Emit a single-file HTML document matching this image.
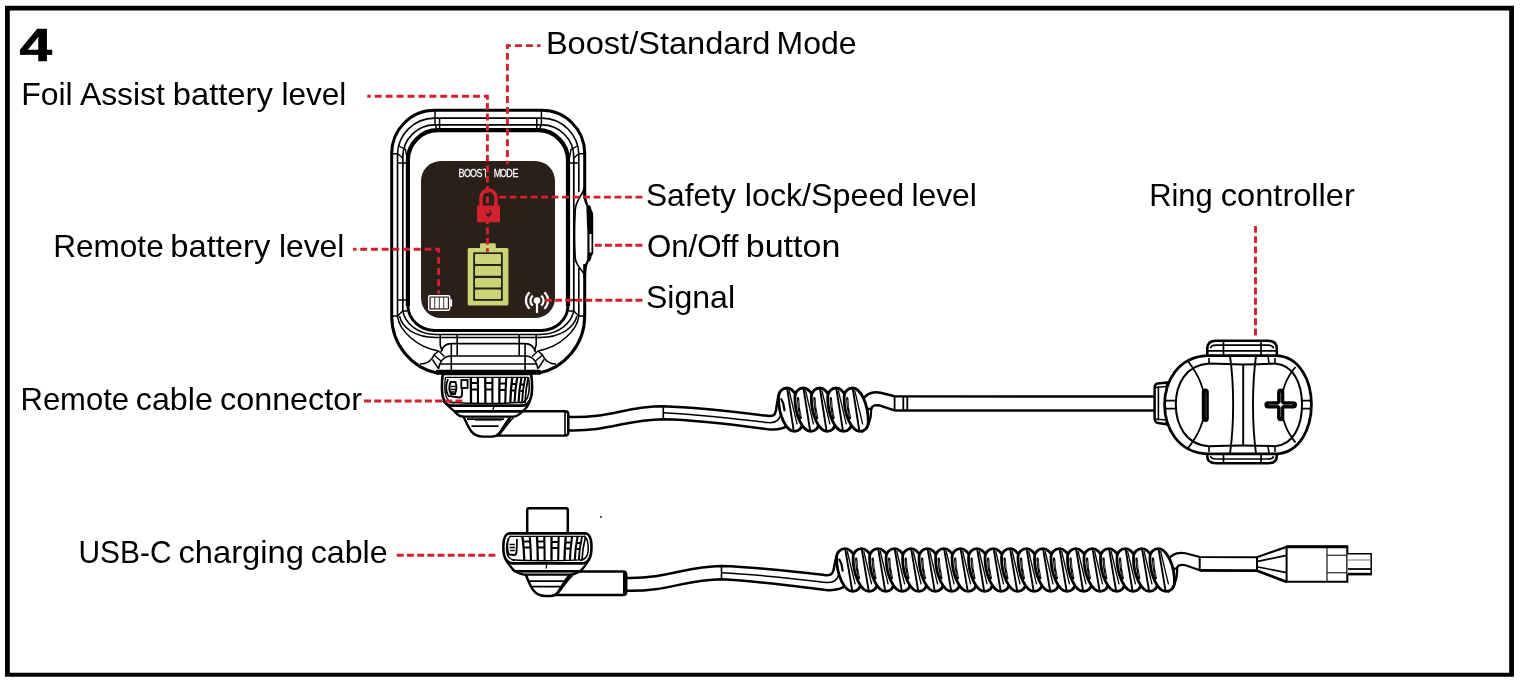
<!DOCTYPE html>
<html lang="en">
<head>
<meta charset="utf-8">
<title>Remote and ring controller overview</title>
<style>
html,body{margin:0;padding:0;background:#fff;}
body{width:1522px;height:684px;overflow:hidden;}
svg{display:block;will-change:transform;}
.lbl{font-family:"Liberation Sans",sans-serif;font-size:32px;fill:#000;}
.num{font-family:"Liberation Sans",sans-serif;font-weight:bold;font-size:45.5px;fill:#000;}
.dash{fill:none;stroke:#d2202c;stroke-width:2.9;}
</style>
</head>
<body>
<svg width="1522" height="684" viewBox="0 0 1522 684">
<rect x="0" y="0" width="1522" height="684" fill="#fff"/>
<path d="M5 5.8 H1514 V676.8 H5 Z M9.8 10.6 V672.7 H1509.2 V10.6 Z" fill="#000" fill-rule="evenodd"/>
<path d="M437 373 C412 368 391.7 345 391.7 316 L391.7 153.5 A43 43 0 0 1 434.7 110.3 L541.7 110.3 A43 43 0 0 1 584.7 153.5 L584.7 316 C584.7 345 564 368 539 373" fill="#fff" stroke="#000" stroke-width="3"/>
<path d="M397.5 316 L397.5 155 A37 37 0 0 1 434.5 118.1 L542 118.1 A37 37 0 0 1 578.8 155 L578.8 192" fill="none" stroke="#000" stroke-width="1.6"/>
<path d="M578.8 268 L578.8 316" fill="none" stroke="#000" stroke-width="1.6"/>
<path d="M402.8 311 L402.8 157 A32 32 0 0 1 434.8 124.9 L541.6 124.9 A32 32 0 0 1 573.8 157 L573.8 311" fill="none" stroke="#000" stroke-width="1.7"/>
<path d="M407.9 306 L407.9 160 A30 30 0 0 1 437.9 130.2 L538 130.2 A30 30 0 0 1 568 160 L568 306" fill="none" stroke="#000" stroke-width="4.2"/>
<path d="M407.9 304 L407.9 306 A27 25 0 0 0 435 330.4 L541 330.4 A27 25 0 0 0 568 306 L568 304" fill="none" stroke="#000" stroke-width="3"/>
<path d="M435 110.3 L435 124 L437 130 M439.6 118.1 L439.6 131 M541.4 110.3 L541.4 124 L539.4 130 M536.8 118.1 L536.8 131" fill="none" stroke="#000" stroke-width="1.5"/>
<path d="M391.7 153.8 L397.5 153.8 L402.8 158 M397.5 163 L407 163 M399 146 L405.5 149.5 L407 158 M584.7 153.8 L578.8 153.8 L573.8 158 M578.8 163 L569 163 M577.4 146 L571 149.5 L569.4 158" fill="none" stroke="#000" stroke-width="1.4"/>
<path d="M391.7 316 L397.5 316 L402.8 311 L407 311 M397.5 300 L407 300 M584.7 316 L578.8 316 L573.8 311 L569 311 M578.8 300 L569 300" fill="none" stroke="#000" stroke-width="1.4"/>
<path d="M402.8 311 C405 322 416 334.4 436 334.4 L540 334.4 C560 334.4 571.5 322 573.8 311" fill="none" stroke="#000" stroke-width="1.5"/>
<path d="M399.5 316 C402 327 414 337.4 436 337.4 L540 337.4 C562 337.4 574 327 577 316" fill="none" stroke="#000" stroke-width="1.5"/>
<path d="M397.5 316 C399 330 416 347 438.5 351 M578.8 316 C577.5 330 560 347 538 351" fill="none" stroke="#000" stroke-width="1.6"/>
<path d="M420 364 C428 364 432 360 434 355 L438.5 351 M556 364 C548 364 544.5 360 542.5 355 L538 351" fill="none" stroke="#000" stroke-width="1.6"/>
<path d="M434 355 L441 361 M438.5 351 L444.5 356.5 M432.5 359.5 L438 368 M542.5 355 L535.5 361 M538 351 L532 356.5 M544 359.5 L538.5 368" fill="none" stroke="#000" stroke-width="1.4"/>
<path d="M440.2 334.4 L440.2 345 L442 351 M457.2 334.4 L457.2 356 M451.3 343.6 L451.3 371 M536.2 334.4 L536.2 345 L534.4 351 M519.2 334.4 L519.2 356 M525.1 343.6 L525.1 371" fill="none" stroke="#000" stroke-width="1.6"/>
<path d="M441 352 C442.5 346.5 446 343.6 451.3 343.6 L525.1 343.6 C530.4 343.6 534 346.5 535.4 352" fill="none" stroke="#000" stroke-width="1.6"/>
<path d="M438.5 369 C440 361 444 356 451.3 356 L525.1 356 C532.4 356 536.5 361 538 369" fill="none" stroke="#000" stroke-width="1.6"/>
<path d="M439.5 364 L537 364" fill="none" stroke="#000" stroke-width="1.6"/>
<path d="M436 372.2 L540.5 372.2" fill="none" stroke="#000" stroke-width="5"/>
<rect x="582.9" y="199" width="4" height="65" fill="#fff"/>
<path d="M584.7 187 C583 195 576 199 575.2 210 C574.4 225 574.4 245 575.2 258 C576 266 581 268 584.7 275" fill="none" stroke="#000" stroke-width="1.7"/>
<path d="M584.7 190 C584.7 198 585 202.5 587.4 205" fill="none" stroke="#000" stroke-width="2.6"/>
<path d="M584.7 278 C584.7 270 585 265 587.6 262" fill="none" stroke="#000" stroke-width="2.6"/>
<path d="M586.3 204.6 L589.4 205.2 C590.6 206 591.2 207.6 591.4 209.6 C592.4 211 593.2 213 593.2 215.5 L593.2 253.5 L591.6 256 C591.4 259 590.4 261 588.4 262.3 L586.6 262 C587.4 258 587.4 254 587.4 250 L587.4 233 C587 224 586.6 214 586.3 204.6 Z" fill="#000"/>
<path d="M589.5 234 L591.5 234 L591.5 252.5 L589.5 252.5 Z" fill="#fff"/>
<rect x="421" y="161" width="134" height="157" rx="20" ry="20" fill="#2a2019"/>
<text transform="translate(458.6 177.1) scale(0.8 1)" x="3.75 11.25 18.75 26.25 33.75 41.25 48.75 56.25 63.75 71.25" y="0" text-anchor="middle" font-family="'Liberation Sans',sans-serif" font-size="11.2" fill="#fff" stroke="#fff" stroke-width="0.25" xml:space="preserve">BOOST MODE</text>
<rect x="477" y="205.6" width="23" height="16.6" rx="0.8" fill="#d2202c"/>
<path d="M481 206 L481 197.5 A7.5 7.5 0 0 1 496 197.5 L496 206" fill="none" stroke="#d2202c" stroke-width="3.6"/>
<circle cx="488.5" cy="213" r="2.9" fill="#2a2019"/>
<circle cx="488.6" cy="211.8" r="1.5" fill="#d2202c"/>
<rect x="487.7" y="214" width="1.7" height="4.6" fill="#2a2019" opacity="0.6"/>
<path d="M469.2 248 L480 248 L480 244.6 Q480 243.3 481.4 243.3 L494.4 243.3 Q495.8 243.3 495.8 244.6 L495.8 248 L506.9 248 Q508.4 248 508.4 249.5 L508.4 304 Q508.4 305.5 506.9 305.5 L469.2 305.5 Q467.7 305.5 467.7 304 L467.7 249.5 Q467.7 248 469.2 248 Z" fill="#c9d476"/>
<rect x="473.2" y="252.3" width="29.6" height="48.5" fill="#2a2019"/>
<rect x="475" y="254" width="26" height="10.0" rx="1.2" fill="#c9d476"/>
<rect x="475" y="266" width="26" height="9.8" rx="1.2" fill="#c9d476"/>
<rect x="475" y="277.9" width="26" height="9.6" rx="1.2" fill="#c9d476"/>
<rect x="475" y="289.4" width="26" height="9.7" rx="1.2" fill="#c9d476"/>
<rect x="428.7" y="295.7" width="21" height="14.5" rx="1.4" fill="none" stroke="#fff" stroke-width="1.4"/>
<rect x="450.2" y="299.3" width="1.9" height="7.2" rx="0.6" fill="#fff"/>
<rect x="430.7" y="297.6" width="3.6" height="10.7" fill="#fff"/>
<rect x="435.2" y="297.6" width="3.6" height="10.7" fill="#fff"/>
<rect x="439.7" y="297.6" width="3.6" height="10.7" fill="#fff"/>
<rect x="444.2" y="297.6" width="3.6" height="10.7" fill="#fff"/>
<circle cx="537" cy="300.6" r="3.3" fill="#fff"/>
<rect x="535.9" y="301" width="2.2" height="12" fill="#fff"/>
<path d="M541.24 295.54 A6.6 6.6 0 0 1 541.24 305.66 M532.76 305.66 A6.6 6.6 0 0 1 532.76 295.54 M544.36 292.43 A11 11 0 0 1 544.36 308.77 M529.64 308.77 A11 11 0 0 1 529.64 292.43" fill="none" stroke="#fff" stroke-width="2.3"/>
<path d="M518 411.2 L565 411.2 Q568.3 411.2 568.3 414.2 L568.3 432.5 Q568.3 435.6 565 435.6 L495 435.6" fill="#fff" stroke="#000" stroke-width="2.4"/>
<path d="M565 411.5 L565 435" fill="none" stroke="#000" stroke-width="1.6"/>
<path d="M463.5 416.5 C468.5 427 471 436.6 483 436.6 L492 436.6 C500 436.6 503.5 428 510.5 417" fill="#fff" stroke="#000" stroke-width="2.4"/>
<path d="M467 419.2 L504 419.2 M471.5 426.2 L498.5 426.2" fill="none" stroke="#000" stroke-width="1.8"/>
<path d="M475 420.6 L502 420.6" fill="none" stroke="#555" stroke-width="1"/>
<path d="M513.5 417.5 C507 424 503 431 498.5 435.6 M509 418 C504.5 424 501.5 430 497 436" fill="none" stroke="#000" stroke-width="1.5"/>
<path d="M454.5 411.2 C457 414.5 459.5 416.6 463.5 416.6 L513 416.6 C517 416.6 520 414 522.5 411.2 Z" fill="#fff" stroke="#000" stroke-width="2.4"/>
<path d="M444.5 402 C447.5 405 450.5 408.5 454.5 411.2 L522.5 411.2 C526 409 528 405.5 529.5 402 Z" fill="#fff" stroke="#000" stroke-width="2.4"/>
<path d="M493.8 406 L493 410.5" fill="none" stroke="#000" stroke-width="1.4"/>
<path d="M442.9 374 L531.1 374 C532.3 380.0 532.5 392.6 530.9 397.6 C529.7 402.1 526.7 405.6 521.7 405.6 L452.3 405.6 C447.3 405.6 444.3 402.1 443.1 397.6 C441.5 392.6 441.7 380.0 442.9 374 Z" fill="#fff" stroke="#000" stroke-width="2.6"/>
<path d="M528.5 377.0 C529.5 384.0 529.3 392.6 527.7 397.1 C526.2 400.6 523.7 402.6 519.7 403.0" fill="none" stroke="#000" stroke-width="1.5"/>
<path d="M445.5 377.0 C444.5 384.0 444.7 392.6 446.3 397.1 C447.8 400.6 450.3 402.6 454.3 403.0" fill="none" stroke="#000" stroke-width="1.3"/>
<path d="M470.8 377.0 Q471.0 390.3 471.0 403.1" fill="none" stroke="#000" stroke-width="2.3"/>
<path d="M477.8 377.0 Q478.0 390.3 478.0 403.1" fill="none" stroke="#000" stroke-width="2.1"/>
<path d="M485.2 377.0 Q485.4 390.3 485.4 403.1" fill="none" stroke="#000" stroke-width="2.3"/>
<path d="M492.4 377.0 Q492.4 390.3 492.4 403.1" fill="none" stroke="#000" stroke-width="2.1"/>
<path d="M499.5 377.0 Q499.3 390.3 499.3 403.1" fill="none" stroke="#000" stroke-width="2.3"/>
<path d="M506.3 377.0 Q505.4 390.3 505.3 403.1" fill="none" stroke="#000" stroke-width="2.1"/>
<path d="M512.3 377.0 Q510.6 390.3 510.3 403.1" fill="none" stroke="#000" stroke-width="2.3"/>
<path d="M517.3 377.0 Q514.9 390.3 514.5 403.1" fill="none" stroke="#000" stroke-width="2.1"/>
<path d="M521.5 377.0 Q519.0 390.3 518.5 403.1" fill="none" stroke="#000" stroke-width="2.1"/>
<path d="M525.3 377.0 Q522.5 390.3 522.0 403.1" fill="none" stroke="#000" stroke-width="1.9"/>
<path d="M528.3 377.0 Q525.5 390.3 525.0 403.1" fill="none" stroke="#000" stroke-width="1.7"/>
<path d="M471 383 L478 383 M471 389.5 L478 389.5 M485.3 383 L492.4 383 M485.3 389.5 L492.4 389.5 M499.4 383.5 L506 383.5 M499.4 390 L505.6 390 M511.8 384 L516.8 384 M511.3 390.5 L516.2 390.5 M521 384.5 L524.8 384.5 M520.5 391 L524 391" fill="none" stroke="#000" stroke-width="1.9"/>
<path d="M446 377.4 L528 377.4" fill="none" stroke="#000" stroke-width="1.4"/>
<path d="M449 402.3 C470 403.6 505 403.6 526 402" fill="none" stroke="#000" stroke-width="1.4"/>
<path d="M448 379 C445.5 385 445.5 392 448.5 396 L459 397.5 Q462 397.5 462 394.5 L462.5 379.5" fill="none" stroke="#000" stroke-width="1.8"/>
<path d="M450.5 382 Q448 389 451 394 L455 394 Q457.5 388 455.5 382 Z" fill="none" stroke="#000" stroke-width="1.9"/>
<path d="M450.5 386.5 L455.5 386.5 M450.5 389.5 L455.5 389.5 M450.8 392 L455.3 392" fill="none" stroke="#000" stroke-width="1.3"/>
<rect x="461.3" y="380" width="6.3" height="8" fill="#fff" stroke="#000" stroke-width="1.8"/>
<path d="M568.3 416.9 C610 418.5 625 406.3 663.3 406.3 C700 407.5 740 412.5 769 416 C774.5 416.5 775.2 414 776 410 L778.3 396 L788 400 L789 425 C783 429.5 776 430 768 429.3 C740 425.5 700 420 663.3 419.3 C625 419.5 610 431.5 568.3 430.4 Z" fill="#fff" stroke="#000" stroke-width="2.5" stroke-linejoin="round"/>
<path d="M663.3 406.3 L663.3 419.3" fill="none" stroke="#000" stroke-width="1.6"/>
<path d="M663.3 412.7 C700 414.5 740 419.5 768.5 422.6 C776 423.2 779.5 420.5 781 414" fill="none" stroke="#000" stroke-width="1.5"/>
<path d="M871.3 408.5 C871.3 418 869 427 862.5 431.5 L858 420 L860 405 Z" fill="#fff" stroke="#000" stroke-width="2.2"/>
<path d="M862 409 L871 409 C872.5 404.5 876 404.8 880 405.6 L894.5 410.4 L1156 410.4 L1156 396.6 L894.5 396.3 L880.5 392.8 C872 391.2 866 394.5 862.8 399.5" fill="#fff" stroke="#000" stroke-width="2.5" stroke-linejoin="round"/>
<path d="M894.6 396.3 L894.6 410.4 M903.3 396.3 L903.3 410.4 M907.3 396.3 L907.3 410.4" fill="none" stroke="#000" stroke-width="1.8"/>
<path d="M786.90 388.00 C782.70 388.00 778.50 391.39 778.50 397.20 C778.50 414.93 785.90 431.40 794.30 431.40 C798.50 431.40 802.70 428.01 802.70 422.20 C802.70 404.47 795.30 388.00 786.90 388.00 Z" fill="#fff" stroke="#000" stroke-width="2.8" stroke-linejoin="round"/>
<path d="M787.20 388.77 L793.70 430.63" fill="none" stroke="#000" stroke-width="1.9"/>
<path d="M789.10 390.42 L797.10 424.33" fill="none" stroke="#000" stroke-width="1.3"/>
<path d="M781.30 399.14 L783.30 403.50 L784.50 410.28" fill="none" stroke="#000" stroke-width="2.2" stroke-linecap="round"/>
<path d="M803.30 388.00 C799.10 388.00 794.90 391.39 794.90 397.20 C794.90 414.93 802.30 431.40 810.70 431.40 C814.90 431.40 819.10 428.01 819.10 422.20 C819.10 404.47 811.70 388.00 803.30 388.00 Z" fill="#fff" stroke="#000" stroke-width="2.8" stroke-linejoin="round"/>
<path d="M803.60 388.77 L810.10 430.63" fill="none" stroke="#000" stroke-width="1.9"/>
<path d="M805.50 390.42 L813.50 424.33" fill="none" stroke="#000" stroke-width="1.3"/>
<path d="M798.00 398.17 L798.80 407.86 L800.70 418.03" fill="none" stroke="#000" stroke-width="2.3" stroke-linecap="round"/>
<path d="M798.30 400.59 L799.00 407.38 M799.70 412.22 L800.50 416.09" fill="none" stroke="#fff" stroke-width="0.7" stroke-linecap="round" opacity="0.55"/>
<path d="M819.70 388.00 C815.50 388.00 811.30 391.39 811.30 397.20 C811.30 414.93 818.70 431.40 827.10 431.40 C831.30 431.40 835.50 428.01 835.50 422.20 C835.50 404.47 828.10 388.00 819.70 388.00 Z" fill="#fff" stroke="#000" stroke-width="2.8" stroke-linejoin="round"/>
<path d="M820.00 388.77 L826.50 430.63" fill="none" stroke="#000" stroke-width="1.9"/>
<path d="M821.90 390.42 L829.90 424.33" fill="none" stroke="#000" stroke-width="1.3"/>
<path d="M814.40 398.17 L815.20 407.86 L817.10 418.03" fill="none" stroke="#000" stroke-width="2.3" stroke-linecap="round"/>
<path d="M814.70 400.59 L815.40 407.38 M816.10 412.22 L816.90 416.09" fill="none" stroke="#fff" stroke-width="0.7" stroke-linecap="round" opacity="0.55"/>
<path d="M836.10 388.00 C831.90 388.00 827.70 391.39 827.70 397.20 C827.70 414.93 835.10 431.40 843.50 431.40 C847.70 431.40 851.90 428.01 851.90 422.20 C851.90 404.47 844.50 388.00 836.10 388.00 Z" fill="#fff" stroke="#000" stroke-width="2.8" stroke-linejoin="round"/>
<path d="M836.40 388.77 L842.90 430.63" fill="none" stroke="#000" stroke-width="1.9"/>
<path d="M838.30 390.42 L846.30 424.33" fill="none" stroke="#000" stroke-width="1.3"/>
<path d="M830.80 398.17 L831.60 407.86 L833.50 418.03" fill="none" stroke="#000" stroke-width="2.3" stroke-linecap="round"/>
<path d="M831.10 400.59 L831.80 407.38 M832.50 412.22 L833.30 416.09" fill="none" stroke="#fff" stroke-width="0.7" stroke-linecap="round" opacity="0.55"/>
<path d="M852.50 388.00 C848.30 388.00 844.10 391.39 844.10 397.20 C844.10 414.93 851.50 431.40 859.90 431.40 C864.10 431.40 868.30 428.01 868.30 422.20 C868.30 404.47 860.90 388.00 852.50 388.00 Z" fill="#fff" stroke="#000" stroke-width="2.8" stroke-linejoin="round"/>
<path d="M852.80 388.77 L859.30 430.63" fill="none" stroke="#000" stroke-width="1.9"/>
<path d="M854.70 390.42 L862.70 424.33" fill="none" stroke="#000" stroke-width="1.3"/>
<path d="M847.20 398.17 L848.00 407.86 L849.90 418.03" fill="none" stroke="#000" stroke-width="2.3" stroke-linecap="round"/>
<path d="M847.50 400.59 L848.20 407.38 M848.90 412.22 L849.70 416.09" fill="none" stroke="#fff" stroke-width="0.7" stroke-linecap="round" opacity="0.55"/>
<path d="M1207.3 357 L1207.3 348.8 Q1207.3 340.8 1216 340.8 L1268 340.8 Q1276.8 340.8 1276.8 348.8 L1276.8 357 Z" fill="#fff" stroke="#000" stroke-width="2.6"/>
<path d="M1210.5 348.3 Q1211 345.2 1216 345.2 L1268 345.2 Q1273 345.2 1273.6 348.3 M1208 350.8 L1276 350.8" fill="none" stroke="#000" stroke-width="1.7"/>
<path d="M1223.5 340.8 L1223.5 357 M1261 340.8 L1261 357" fill="none" stroke="#000" stroke-width="1.7"/>
<path d="M1207.3 452 L1207.3 456.2 Q1207.3 463.2 1216 463.2 L1268 463.2 Q1276.8 463.2 1276.8 456.2 L1276.8 452 Z" fill="#fff" stroke="#000" stroke-width="2.6"/>
<path d="M1210.5 456.2 Q1211 459.0 1216 459.0 L1268 459.0 Q1273 459.0 1273.6 456.2 M1208 454.2 L1276 454.2" fill="none" stroke="#000" stroke-width="1.7"/>
<path d="M1223.5 452 L1223.5 463.2 M1261 452 L1261 463.2" fill="none" stroke="#000" stroke-width="1.7"/>
<path d="M1167 382.5 L1158 383.5 Q1154.6 384 1154.6 388 L1154.6 418 Q1154.6 422.5 1158 423 L1167 424.2 Z" fill="#fff" stroke="#000" stroke-width="2.5"/>
<path d="M1158.4 386 L1158.4 420.5 M1155 387.5 L1166 386.5 M1155 419 L1166 420" fill="none" stroke="#000" stroke-width="1.6"/>
<path d="M1207 355.6 C1178 357 1164.6 381 1164.6 404.6 C1164.6 428 1178 452.5 1207 453.8 L1277 453.8 C1300 452.5 1311.4 428 1311.4 404.6 C1311.4 381 1300 357 1277 355.6 Z" fill="#fff" stroke="#000" stroke-width="2.8"/>
<path d="M1209 363.6 C1186 365 1175.8 384 1175.8 404.6 C1175.8 425 1186 445 1209 446.2 Q1243 444.6 1275 446.2 C1294 445 1302 425 1302 404.6 C1302 384 1294 365 1275 363.6 Q1243 365.2 1209 363.6 Z" fill="none" stroke="#000" stroke-width="2"/>
<path d="M1187.5 360.5 C1198 374 1205 389 1205 404.6 C1205 420 1198 436 1187.5 448.8" fill="none" stroke="#000" stroke-width="1.8"/>
<path d="M1295.5 367 C1286 378 1281.5 391 1281.5 404.6 C1281.5 418 1286 431 1295.5 442.5" fill="none" stroke="#000" stroke-width="1.8"/>
<path d="M1165 400.6 L1176 400.6 M1165 408.6 L1176 408.6 M1302 400.6 L1311 400.6 M1302 408.6 L1311 408.6" fill="none" stroke="#000" stroke-width="1.8"/>
<path d="M1230 356 C1234.2 385 1234.2 424 1230 453.6 M1243.2 365 L1243.2 445 M1256 356 C1252 385 1252 424 1256 453.6" fill="none" stroke="#000" stroke-width="1.9"/>
<path d="M1209 358 L1209 363.8 M1275 358 L1275 363.8 M1268 356 L1269 363.5 M1209 446 L1209 452 M1275 446 L1275 452 M1268 446 L1269 453.5" fill="none" stroke="#000" stroke-width="1.6"/>
<path d="M1205.3 392 L1205.3 418.4" fill="none" stroke="#000" stroke-width="7" stroke-linecap="round"/>
<path d="M1206 393 L1206 417" fill="none" stroke="#fff" stroke-width="0.8" stroke-linecap="round" opacity="0.35"/>
<path d="M1268 404.8 L1293.4 404.8 M1280.7 392 L1280.7 417.6" fill="none" stroke="#000" stroke-width="7.2" stroke-linecap="round"/>
<path d="M1269 404.8 L1292.5 404.8 M1280.7 393 L1280.7 416.6" fill="none" stroke="#fff" stroke-width="0.9" stroke-linecap="round" opacity="0.45"/>
<path d="M1278.2 404.8 L1280.7 402.3 L1283.2 404.8 L1280.7 407.3 Z" fill="#fff" opacity="0.85"/>
<path d="M527.2 534 L527.2 510 Q527.2 508.2 529 508.2 L566 508.2 Q567.8 508.2 567.8 510 L567.8 534" fill="#fff" stroke="#000" stroke-width="2.5"/>
<path d="M575 571.4 L623 571.4 Q626.2 571.4 626.2 574.4 L626.2 592 Q626.2 595 623 595 L553 595" fill="#fff" stroke="#000" stroke-width="2.5"/>
<path d="M624.3 572.5 L624.3 594" fill="none" stroke="#000" stroke-width="2.6"/>
<path d="M525.5 574 C530 585 533 596 545 596 L551 596 C558 596 561.5 587 570.5 574.4" fill="#fff" stroke="#000" stroke-width="2.5"/>
<path d="M529 581.2 L565 581.2 M532 586.6 L560.5 586.6" fill="none" stroke="#000" stroke-width="1.7"/>
<path d="M573 575 C566.5 581.5 562 588.5 557 594.5 M568 576 C563.5 582 560 588.5 555.5 595" fill="none" stroke="#000" stroke-width="1.5"/>
<path d="M515 571.2 C518 573 520.5 574.6 524.5 574.6 L570 574.6 C574 574.6 577 573 580 571.2 Z" fill="#fff" stroke="#000" stroke-width="2.2"/>
<path d="M506.5 560.5 C509 564.5 511.5 568.5 515 571.2 L580 571.2 C583.5 568.5 586 564.5 588.3 560.5 Z" fill="#fff" stroke="#000" stroke-width="2.4"/>
<path d="M546.5 564.8 L546.3 568.5" fill="none" stroke="#000" stroke-width="1.3"/>
<path d="M509.8 533.4 L585 533.4 C589 533.4 591.2 538.4 591.4 544.4 C591.6 550.4 591.2 555.4 589.5 558.4 C588 561.4 586 563.4 582 563.4 L512.8 563.4 C508.8 563.4 506.8 561.4 505.3 558.4 C503.6 555.4 503.2 550.4 503.40000000000003 544.4 C503.6 538.4 505.8 533.4 509.8 533.4 Z" fill="#fff" stroke="#000" stroke-width="2.6"/>
<path d="M584 535.9 C587.5 538.4 588.4 545.4 588.2 550.4 C588 555.4 586 559.4 580 560.6" fill="none" stroke="#000" stroke-width="1.5"/>
<path d="M510.8 535.9 C507.3 538.4 506.40000000000003 545.4 506.6 550.4 C506.8 555.4 508.8 559.4 514.8 560.6" fill="none" stroke="#000" stroke-width="1.4"/>
<path d="M522.5 536.9 Q524.0 548.6 524.3 559.9" fill="none" stroke="#000" stroke-width="2.3"/>
<path d="M529.8 536.9 Q530.8 548.6 531.0 559.9" fill="none" stroke="#000" stroke-width="2.1"/>
<path d="M537.0 536.9 Q537.7 548.6 537.8 559.9" fill="none" stroke="#000" stroke-width="2.3"/>
<path d="M544.3 536.9 Q544.6 548.6 544.6 559.9" fill="none" stroke="#000" stroke-width="2.1"/>
<path d="M551.5 536.9 Q551.5 548.6 551.5 559.9" fill="none" stroke="#000" stroke-width="2.3"/>
<path d="M558.7 536.9 Q558.3 548.6 558.2 559.9" fill="none" stroke="#000" stroke-width="2.1"/>
<path d="M565.7 536.9 Q564.7 548.6 564.5 559.9" fill="none" stroke="#000" stroke-width="2.3"/>
<path d="M572.0 536.9 Q570.3 548.6 570.0 559.9" fill="none" stroke="#000" stroke-width="2.1"/>
<path d="M577.5 536.9 Q575.2 548.6 574.8 559.9" fill="none" stroke="#000" stroke-width="2.1"/>
<path d="M582.0 536.9 Q579.3 548.6 578.8 559.9" fill="none" stroke="#000" stroke-width="1.9"/>
<path d="M585.5 536.9 Q582.5 548.6 582.0 559.9" fill="none" stroke="#000" stroke-width="1.7"/>
<path d="M524 541.5 L530.5 541.5 M524.5 547.5 L530.8 547.5 M537.5 541.5 L544.4 541.5 M537.6 547.5 L544.5 547.5 M551.5 542 L558.5 542 M551.5 548 L558.3 548 M565.3 542.5 L571.3 542.5 M565 548.5 L570.8 548.5 M577 543 L581.2 543 M576.5 549 L580.5 549" fill="none" stroke="#000" stroke-width="1.8"/>
<path d="M510 536.4 L585 536.4" fill="none" stroke="#000" stroke-width="1.4"/>
<path d="M512 559.8 C530 561 565 561 583.5 559.6" fill="none" stroke="#000" stroke-width="1.4"/>
<path d="M508.5 538.5 C507 544 507 550 509 554.5 L514 555 Q516.5 555 516.5 552 L517 539" fill="none" stroke="#000" stroke-width="1.8"/>
<path d="M509.6 544.5 L514.8 544.5 M509.6 547.5 L514.8 547.5 M509.9 550.5 L514.8 550.5" fill="none" stroke="#000" stroke-width="1.3"/>
<circle cx="601" cy="516.9" r="0.9" fill="#000"/>
<path d="M626.2 578 C668 579 685 566.2 721.5 566 C760 567 800 572.5 826 575.2 C831.5 575.6 832.5 573.5 833.5 570 L836.4 556.2 L846 560 L847 585 C841 589.5 834 590.7 826 590 C800 587 760 581 721.5 579.2 C685 579.5 668 591.8 626.2 590.8 Z" fill="#fff" stroke="#000" stroke-width="2.5" stroke-linejoin="round"/>
<path d="M721.5 566 L721.5 579.2" fill="none" stroke="#000" stroke-width="1.6"/>
<path d="M721.5 572.8 C760 574.5 800 579.5 826.5 582.4 C834 583 837.5 580.3 839 574" fill="none" stroke="#000" stroke-width="1.5"/>
<path d="M1177.2 568.4 C1177.2 578 1175 587 1168.5 591.5 L1164 580 L1166 565 Z" fill="#fff" stroke="#000" stroke-width="2.2"/>
<path d="M1168 568.6 L1176.5 568.6 C1178 564.2 1181.5 564.4 1185.5 565.2 L1199.7 570.2 L1257 570.6 L1286.6 581.8 L1347.3 581.8 L1347.3 546.9 L1286.6 546.9 L1257 557.2 L1199.7 557 L1185.5 553.3 C1177 551.7 1171 555 1168 560" fill="#fff" stroke="#000" stroke-width="2.1" stroke-linejoin="miter"/>
<path d="M1199.7 557 L1199.7 570" fill="none" stroke="#000" stroke-width="2"/>
<path d="M1257 557 L1257 570.5 M1286.6 546.9 L1286.6 581.8" fill="none" stroke="#000" stroke-width="2"/>
<path d="M1258 561.3 L1286.6 555.3 M1258 567 L1286.6 572.6" fill="none" stroke="#000" stroke-width="1.7"/>
<path d="M1257 570.8 L1286.6 582" fill="none" stroke="#000" stroke-width="2.6"/>
<path d="M1199.7 570.4 L1257 570.8" fill="none" stroke="#000" stroke-width="2.6"/>
<path d="M1285.8 546.7 L1348 546.7" fill="none" stroke="#000" stroke-width="2.9"/>
<path d="M1327 547 L1327 581.6 M1327 555.2 L1347 555.2 M1327 572.7 L1347 572.7" fill="none" stroke="#000" stroke-width="1.1"/>
<path d="M1347.5 553.8 L1371.2 553.8 L1371.2 574.6 L1347.5 574.6" fill="#fff" stroke="#000" stroke-width="1.5"/>
<path d="M1348 560 L1370 560" fill="none" stroke="#888" stroke-width="1.2"/>
<path d="M1348 569 L1371 569" fill="none" stroke="#000" stroke-width="1.8"/>
<path d="M1348 574 L1371.8 574" fill="none" stroke="#000" stroke-width="2.4"/>
<path d="M845.00 548.60 C840.80 548.60 836.60 551.94 836.60 557.68 C836.60 575.16 844.40 591.40 852.80 591.40 C857.00 591.40 861.20 588.06 861.20 582.32 C861.20 564.84 853.40 548.60 845.00 548.60 Z" fill="#fff" stroke="#000" stroke-width="2.8" stroke-linejoin="round"/>
<path d="M845.30 549.36 L852.20 590.64" fill="none" stroke="#000" stroke-width="1.9"/>
<path d="M847.20 550.99 L855.20 584.43" fill="none" stroke="#000" stroke-width="1.3"/>
<path d="M839.40 559.59 L841.40 563.89 L842.60 570.57" fill="none" stroke="#000" stroke-width="2.2" stroke-linecap="round"/>
<path d="M861.49 548.60 C857.29 548.60 853.09 551.94 853.09 557.68 C853.09 575.16 860.89 591.40 869.29 591.40 C873.49 591.40 877.69 588.06 877.69 582.32 C877.69 564.84 869.89 548.60 861.49 548.60 Z" fill="#fff" stroke="#000" stroke-width="2.8" stroke-linejoin="round"/>
<path d="M861.79 549.36 L868.69 590.64" fill="none" stroke="#000" stroke-width="1.9"/>
<path d="M863.69 550.99 L871.69 584.43" fill="none" stroke="#000" stroke-width="1.3"/>
<path d="M856.19 558.63 L856.99 568.18 L858.89 578.22" fill="none" stroke="#000" stroke-width="2.3" stroke-linecap="round"/>
<path d="M856.49 561.02 L857.19 567.71 M857.89 572.48 L858.69 576.31" fill="none" stroke="#fff" stroke-width="0.7" stroke-linecap="round" opacity="0.55"/>
<path d="M877.98 548.60 C873.78 548.60 869.58 551.94 869.58 557.68 C869.58 575.16 877.38 591.40 885.78 591.40 C889.98 591.40 894.18 588.06 894.18 582.32 C894.18 564.84 886.38 548.60 877.98 548.60 Z" fill="#fff" stroke="#000" stroke-width="2.8" stroke-linejoin="round"/>
<path d="M878.28 549.36 L885.18 590.64" fill="none" stroke="#000" stroke-width="1.9"/>
<path d="M880.18 550.99 L888.18 584.43" fill="none" stroke="#000" stroke-width="1.3"/>
<path d="M872.68 558.63 L873.48 568.18 L875.38 578.22" fill="none" stroke="#000" stroke-width="2.3" stroke-linecap="round"/>
<path d="M872.98 561.02 L873.68 567.71 M874.38 572.48 L875.18 576.31" fill="none" stroke="#fff" stroke-width="0.7" stroke-linecap="round" opacity="0.55"/>
<path d="M894.47 548.60 C890.27 548.60 886.07 551.94 886.07 557.68 C886.07 575.16 893.87 591.40 902.27 591.40 C906.47 591.40 910.67 588.06 910.67 582.32 C910.67 564.84 902.87 548.60 894.47 548.60 Z" fill="#fff" stroke="#000" stroke-width="2.8" stroke-linejoin="round"/>
<path d="M894.77 549.36 L901.67 590.64" fill="none" stroke="#000" stroke-width="1.9"/>
<path d="M896.67 550.99 L904.67 584.43" fill="none" stroke="#000" stroke-width="1.3"/>
<path d="M889.17 558.63 L889.97 568.18 L891.87 578.22" fill="none" stroke="#000" stroke-width="2.3" stroke-linecap="round"/>
<path d="M889.47 561.02 L890.17 567.71 M890.87 572.48 L891.67 576.31" fill="none" stroke="#fff" stroke-width="0.7" stroke-linecap="round" opacity="0.55"/>
<path d="M910.96 548.60 C906.76 548.60 902.56 551.94 902.56 557.68 C902.56 575.16 910.36 591.40 918.76 591.40 C922.96 591.40 927.16 588.06 927.16 582.32 C927.16 564.84 919.36 548.60 910.96 548.60 Z" fill="#fff" stroke="#000" stroke-width="2.8" stroke-linejoin="round"/>
<path d="M911.26 549.36 L918.16 590.64" fill="none" stroke="#000" stroke-width="1.9"/>
<path d="M913.16 550.99 L921.16 584.43" fill="none" stroke="#000" stroke-width="1.3"/>
<path d="M905.66 558.63 L906.46 568.18 L908.36 578.22" fill="none" stroke="#000" stroke-width="2.3" stroke-linecap="round"/>
<path d="M905.96 561.02 L906.66 567.71 M907.36 572.48 L908.16 576.31" fill="none" stroke="#fff" stroke-width="0.7" stroke-linecap="round" opacity="0.55"/>
<path d="M927.45 548.60 C923.25 548.60 919.05 551.94 919.05 557.68 C919.05 575.16 926.85 591.40 935.25 591.40 C939.45 591.40 943.65 588.06 943.65 582.32 C943.65 564.84 935.85 548.60 927.45 548.60 Z" fill="#fff" stroke="#000" stroke-width="2.8" stroke-linejoin="round"/>
<path d="M927.75 549.36 L934.65 590.64" fill="none" stroke="#000" stroke-width="1.9"/>
<path d="M929.65 550.99 L937.65 584.43" fill="none" stroke="#000" stroke-width="1.3"/>
<path d="M922.15 558.63 L922.95 568.18 L924.85 578.22" fill="none" stroke="#000" stroke-width="2.3" stroke-linecap="round"/>
<path d="M922.45 561.02 L923.15 567.71 M923.85 572.48 L924.65 576.31" fill="none" stroke="#fff" stroke-width="0.7" stroke-linecap="round" opacity="0.55"/>
<path d="M943.94 548.60 C939.74 548.60 935.54 551.94 935.54 557.68 C935.54 575.16 943.34 591.40 951.74 591.40 C955.94 591.40 960.14 588.06 960.14 582.32 C960.14 564.84 952.34 548.60 943.94 548.60 Z" fill="#fff" stroke="#000" stroke-width="2.8" stroke-linejoin="round"/>
<path d="M944.24 549.36 L951.14 590.64" fill="none" stroke="#000" stroke-width="1.9"/>
<path d="M946.14 550.99 L954.14 584.43" fill="none" stroke="#000" stroke-width="1.3"/>
<path d="M938.64 558.63 L939.44 568.18 L941.34 578.22" fill="none" stroke="#000" stroke-width="2.3" stroke-linecap="round"/>
<path d="M938.94 561.02 L939.64 567.71 M940.34 572.48 L941.14 576.31" fill="none" stroke="#fff" stroke-width="0.7" stroke-linecap="round" opacity="0.55"/>
<path d="M960.43 548.60 C956.23 548.60 952.03 551.94 952.03 557.68 C952.03 575.16 959.83 591.40 968.23 591.40 C972.43 591.40 976.63 588.06 976.63 582.32 C976.63 564.84 968.83 548.60 960.43 548.60 Z" fill="#fff" stroke="#000" stroke-width="2.8" stroke-linejoin="round"/>
<path d="M960.73 549.36 L967.63 590.64" fill="none" stroke="#000" stroke-width="1.9"/>
<path d="M962.63 550.99 L970.63 584.43" fill="none" stroke="#000" stroke-width="1.3"/>
<path d="M955.13 558.63 L955.93 568.18 L957.83 578.22" fill="none" stroke="#000" stroke-width="2.3" stroke-linecap="round"/>
<path d="M955.43 561.02 L956.13 567.71 M956.83 572.48 L957.63 576.31" fill="none" stroke="#fff" stroke-width="0.7" stroke-linecap="round" opacity="0.55"/>
<path d="M976.92 548.60 C972.72 548.60 968.52 551.94 968.52 557.68 C968.52 575.16 976.32 591.40 984.72 591.40 C988.92 591.40 993.12 588.06 993.12 582.32 C993.12 564.84 985.32 548.60 976.92 548.60 Z" fill="#fff" stroke="#000" stroke-width="2.8" stroke-linejoin="round"/>
<path d="M977.22 549.36 L984.12 590.64" fill="none" stroke="#000" stroke-width="1.9"/>
<path d="M979.12 550.99 L987.12 584.43" fill="none" stroke="#000" stroke-width="1.3"/>
<path d="M971.62 558.63 L972.42 568.18 L974.32 578.22" fill="none" stroke="#000" stroke-width="2.3" stroke-linecap="round"/>
<path d="M971.92 561.02 L972.62 567.71 M973.32 572.48 L974.12 576.31" fill="none" stroke="#fff" stroke-width="0.7" stroke-linecap="round" opacity="0.55"/>
<path d="M993.41 548.60 C989.21 548.60 985.01 551.94 985.01 557.68 C985.01 575.16 992.81 591.40 1001.21 591.40 C1005.41 591.40 1009.61 588.06 1009.61 582.32 C1009.61 564.84 1001.81 548.60 993.41 548.60 Z" fill="#fff" stroke="#000" stroke-width="2.8" stroke-linejoin="round"/>
<path d="M993.71 549.36 L1000.61 590.64" fill="none" stroke="#000" stroke-width="1.9"/>
<path d="M995.61 550.99 L1003.61 584.43" fill="none" stroke="#000" stroke-width="1.3"/>
<path d="M988.11 558.63 L988.91 568.18 L990.81 578.22" fill="none" stroke="#000" stroke-width="2.3" stroke-linecap="round"/>
<path d="M988.41 561.02 L989.11 567.71 M989.81 572.48 L990.61 576.31" fill="none" stroke="#fff" stroke-width="0.7" stroke-linecap="round" opacity="0.55"/>
<path d="M1009.90 548.60 C1005.70 548.60 1001.50 551.94 1001.50 557.68 C1001.50 575.16 1009.30 591.40 1017.70 591.40 C1021.90 591.40 1026.10 588.06 1026.10 582.32 C1026.10 564.84 1018.30 548.60 1009.90 548.60 Z" fill="#fff" stroke="#000" stroke-width="2.8" stroke-linejoin="round"/>
<path d="M1010.20 549.36 L1017.10 590.64" fill="none" stroke="#000" stroke-width="1.9"/>
<path d="M1012.10 550.99 L1020.10 584.43" fill="none" stroke="#000" stroke-width="1.3"/>
<path d="M1004.60 558.63 L1005.40 568.18 L1007.30 578.22" fill="none" stroke="#000" stroke-width="2.3" stroke-linecap="round"/>
<path d="M1004.90 561.02 L1005.60 567.71 M1006.30 572.48 L1007.10 576.31" fill="none" stroke="#fff" stroke-width="0.7" stroke-linecap="round" opacity="0.55"/>
<path d="M1026.39 548.60 C1022.19 548.60 1017.99 551.94 1017.99 557.68 C1017.99 575.16 1025.79 591.40 1034.19 591.40 C1038.39 591.40 1042.59 588.06 1042.59 582.32 C1042.59 564.84 1034.79 548.60 1026.39 548.60 Z" fill="#fff" stroke="#000" stroke-width="2.8" stroke-linejoin="round"/>
<path d="M1026.69 549.36 L1033.59 590.64" fill="none" stroke="#000" stroke-width="1.9"/>
<path d="M1028.59 550.99 L1036.59 584.43" fill="none" stroke="#000" stroke-width="1.3"/>
<path d="M1021.09 558.63 L1021.89 568.18 L1023.79 578.22" fill="none" stroke="#000" stroke-width="2.3" stroke-linecap="round"/>
<path d="M1021.39 561.02 L1022.09 567.71 M1022.79 572.48 L1023.59 576.31" fill="none" stroke="#fff" stroke-width="0.7" stroke-linecap="round" opacity="0.55"/>
<path d="M1042.88 548.60 C1038.68 548.60 1034.48 551.94 1034.48 557.68 C1034.48 575.16 1042.28 591.40 1050.68 591.40 C1054.88 591.40 1059.08 588.06 1059.08 582.32 C1059.08 564.84 1051.28 548.60 1042.88 548.60 Z" fill="#fff" stroke="#000" stroke-width="2.8" stroke-linejoin="round"/>
<path d="M1043.18 549.36 L1050.08 590.64" fill="none" stroke="#000" stroke-width="1.9"/>
<path d="M1045.08 550.99 L1053.08 584.43" fill="none" stroke="#000" stroke-width="1.3"/>
<path d="M1037.58 558.63 L1038.38 568.18 L1040.28 578.22" fill="none" stroke="#000" stroke-width="2.3" stroke-linecap="round"/>
<path d="M1037.88 561.02 L1038.58 567.71 M1039.28 572.48 L1040.08 576.31" fill="none" stroke="#fff" stroke-width="0.7" stroke-linecap="round" opacity="0.55"/>
<path d="M1059.37 548.60 C1055.17 548.60 1050.97 551.94 1050.97 557.68 C1050.97 575.16 1058.77 591.40 1067.17 591.40 C1071.37 591.40 1075.57 588.06 1075.57 582.32 C1075.57 564.84 1067.77 548.60 1059.37 548.60 Z" fill="#fff" stroke="#000" stroke-width="2.8" stroke-linejoin="round"/>
<path d="M1059.67 549.36 L1066.57 590.64" fill="none" stroke="#000" stroke-width="1.9"/>
<path d="M1061.57 550.99 L1069.57 584.43" fill="none" stroke="#000" stroke-width="1.3"/>
<path d="M1054.07 558.63 L1054.87 568.18 L1056.77 578.22" fill="none" stroke="#000" stroke-width="2.3" stroke-linecap="round"/>
<path d="M1054.37 561.02 L1055.07 567.71 M1055.77 572.48 L1056.57 576.31" fill="none" stroke="#fff" stroke-width="0.7" stroke-linecap="round" opacity="0.55"/>
<path d="M1075.86 548.60 C1071.66 548.60 1067.46 551.94 1067.46 557.68 C1067.46 575.16 1075.26 591.40 1083.66 591.40 C1087.86 591.40 1092.06 588.06 1092.06 582.32 C1092.06 564.84 1084.26 548.60 1075.86 548.60 Z" fill="#fff" stroke="#000" stroke-width="2.8" stroke-linejoin="round"/>
<path d="M1076.16 549.36 L1083.06 590.64" fill="none" stroke="#000" stroke-width="1.9"/>
<path d="M1078.06 550.99 L1086.06 584.43" fill="none" stroke="#000" stroke-width="1.3"/>
<path d="M1070.56 558.63 L1071.36 568.18 L1073.26 578.22" fill="none" stroke="#000" stroke-width="2.3" stroke-linecap="round"/>
<path d="M1070.86 561.02 L1071.56 567.71 M1072.26 572.48 L1073.06 576.31" fill="none" stroke="#fff" stroke-width="0.7" stroke-linecap="round" opacity="0.55"/>
<path d="M1092.35 548.60 C1088.15 548.60 1083.95 551.94 1083.95 557.68 C1083.95 575.16 1091.75 591.40 1100.15 591.40 C1104.35 591.40 1108.55 588.06 1108.55 582.32 C1108.55 564.84 1100.75 548.60 1092.35 548.60 Z" fill="#fff" stroke="#000" stroke-width="2.8" stroke-linejoin="round"/>
<path d="M1092.65 549.36 L1099.55 590.64" fill="none" stroke="#000" stroke-width="1.9"/>
<path d="M1094.55 550.99 L1102.55 584.43" fill="none" stroke="#000" stroke-width="1.3"/>
<path d="M1087.05 558.63 L1087.85 568.18 L1089.75 578.22" fill="none" stroke="#000" stroke-width="2.3" stroke-linecap="round"/>
<path d="M1087.35 561.02 L1088.05 567.71 M1088.75 572.48 L1089.55 576.31" fill="none" stroke="#fff" stroke-width="0.7" stroke-linecap="round" opacity="0.55"/>
<path d="M1108.84 548.60 C1104.64 548.60 1100.44 551.94 1100.44 557.68 C1100.44 575.16 1108.24 591.40 1116.64 591.40 C1120.84 591.40 1125.04 588.06 1125.04 582.32 C1125.04 564.84 1117.24 548.60 1108.84 548.60 Z" fill="#fff" stroke="#000" stroke-width="2.8" stroke-linejoin="round"/>
<path d="M1109.14 549.36 L1116.04 590.64" fill="none" stroke="#000" stroke-width="1.9"/>
<path d="M1111.04 550.99 L1119.04 584.43" fill="none" stroke="#000" stroke-width="1.3"/>
<path d="M1103.54 558.63 L1104.34 568.18 L1106.24 578.22" fill="none" stroke="#000" stroke-width="2.3" stroke-linecap="round"/>
<path d="M1103.84 561.02 L1104.54 567.71 M1105.24 572.48 L1106.04 576.31" fill="none" stroke="#fff" stroke-width="0.7" stroke-linecap="round" opacity="0.55"/>
<path d="M1125.33 548.60 C1121.13 548.60 1116.93 551.94 1116.93 557.68 C1116.93 575.16 1124.73 591.40 1133.13 591.40 C1137.33 591.40 1141.53 588.06 1141.53 582.32 C1141.53 564.84 1133.73 548.60 1125.33 548.60 Z" fill="#fff" stroke="#000" stroke-width="2.8" stroke-linejoin="round"/>
<path d="M1125.63 549.36 L1132.53 590.64" fill="none" stroke="#000" stroke-width="1.9"/>
<path d="M1127.53 550.99 L1135.53 584.43" fill="none" stroke="#000" stroke-width="1.3"/>
<path d="M1120.03 558.63 L1120.83 568.18 L1122.73 578.22" fill="none" stroke="#000" stroke-width="2.3" stroke-linecap="round"/>
<path d="M1120.33 561.02 L1121.03 567.71 M1121.73 572.48 L1122.53 576.31" fill="none" stroke="#fff" stroke-width="0.7" stroke-linecap="round" opacity="0.55"/>
<path d="M1141.82 548.60 C1137.62 548.60 1133.42 551.94 1133.42 557.68 C1133.42 575.16 1141.22 591.40 1149.62 591.40 C1153.82 591.40 1158.02 588.06 1158.02 582.32 C1158.02 564.84 1150.22 548.60 1141.82 548.60 Z" fill="#fff" stroke="#000" stroke-width="2.8" stroke-linejoin="round"/>
<path d="M1142.12 549.36 L1149.02 590.64" fill="none" stroke="#000" stroke-width="1.9"/>
<path d="M1144.02 550.99 L1152.02 584.43" fill="none" stroke="#000" stroke-width="1.3"/>
<path d="M1136.52 558.63 L1137.32 568.18 L1139.22 578.22" fill="none" stroke="#000" stroke-width="2.3" stroke-linecap="round"/>
<path d="M1136.82 561.02 L1137.52 567.71 M1138.22 572.48 L1139.02 576.31" fill="none" stroke="#fff" stroke-width="0.7" stroke-linecap="round" opacity="0.55"/>
<path d="M1158.31 548.60 C1154.11 548.60 1149.91 551.94 1149.91 557.68 C1149.91 575.16 1157.71 591.40 1166.11 591.40 C1170.31 591.40 1174.51 588.06 1174.51 582.32 C1174.51 564.84 1166.71 548.60 1158.31 548.60 Z" fill="#fff" stroke="#000" stroke-width="2.8" stroke-linejoin="round"/>
<path d="M1158.61 549.36 L1165.51 590.64" fill="none" stroke="#000" stroke-width="1.9"/>
<path d="M1160.51 550.99 L1168.51 584.43" fill="none" stroke="#000" stroke-width="1.3"/>
<path d="M1153.01 558.63 L1153.81 568.18 L1155.71 578.22" fill="none" stroke="#000" stroke-width="2.3" stroke-linecap="round"/>
<path d="M1153.31 561.02 L1154.01 567.71 M1154.71 572.48 L1155.51 576.31" fill="none" stroke="#fff" stroke-width="0.7" stroke-linecap="round" opacity="0.55"/>
<path class="dash" d="M540.5 45.6 L507.4 45.6" stroke-dasharray="6.9 4.133" stroke-dashoffset="3.45"/>
<path class="dash" d="M507.4 45.6 L507.4 164.3" stroke-dasharray="6.9 3.891" stroke-dashoffset="3.45"/>
<path class="dash" d="M367.3 96.2 L487.4 96.2" stroke-dasharray="6.9 4.018" stroke-dashoffset="3.45"/>
<path class="dash" d="M487.4 96.2 L487.4 251.7" stroke-dasharray="6.9 3.467" stroke-dashoffset="3.45"/>
<path class="dash" d="M642.4 197.1 L499.2 197.1" stroke-dasharray="6.9 3.585" stroke-dashoffset="0"/>
<path class="dash" d="M642.4 245.3 L594.8 245.3" stroke-dasharray="6.9 3.275" stroke-dashoffset="0"/>
<path class="dash" d="M642.4 300.2 L545.2 300.2" stroke-dasharray="6.9 3.133" stroke-dashoffset="0"/>
<path class="dash" d="M353 249.3 L438.6 249.3" stroke-dasharray="6.9 3.800" stroke-dashoffset="3.45"/>
<path class="dash" d="M438.6 249.3 L438.6 293.7" stroke-dasharray="6.9 4.200" stroke-dashoffset="3.45"/>
<path class="dash" d="M364.1 401.0 L462.3 401.0" stroke-dasharray="6.9 3.244" stroke-dashoffset="0"/>
<path class="dash" d="M396.8 555.3 L495.4 555.3" stroke-dasharray="6.9 3.289" stroke-dashoffset="0"/>
<path class="dash" d="M1255.5 225.9 L1255.5 335.5" stroke-dasharray="6.9 3.370" stroke-dashoffset="0"/>
<rect x="505.95" y="44.15" width="2.9" height="2.9" fill="#d2202c"/>
<rect x="485.95" y="94.75" width="2.9" height="2.9" fill="#d2202c"/>
<rect x="437.15" y="247.85" width="2.9" height="2.9" fill="#d2202c"/>
<text class="lbl" y="105.0"><tspan x="21.2" textLength="51.5" lengthAdjust="spacingAndGlyphs">Foil</tspan> <tspan x="79.9" textLength="85.0" lengthAdjust="spacingAndGlyphs">Assist</tspan> <tspan x="172.8" textLength="100.0" lengthAdjust="spacingAndGlyphs">battery</tspan> <tspan x="281.4" textLength="65.0" lengthAdjust="spacingAndGlyphs">level</tspan></text>
<text class="lbl" y="53.85"><tspan x="545.9" textLength="224.5" lengthAdjust="spacingAndGlyphs">Boost/Standard</tspan> <tspan x="776.6" textLength="80.0" lengthAdjust="spacingAndGlyphs">Mode</tspan></text>
<text class="lbl" y="257.3"><tspan x="53.2" textLength="110.5" lengthAdjust="spacingAndGlyphs">Remote</tspan> <tspan x="170.3" textLength="100.0" lengthAdjust="spacingAndGlyphs">battery</tspan> <tspan x="278.9" textLength="65.5" lengthAdjust="spacingAndGlyphs">level</tspan></text>
<text class="lbl" y="206.2"><tspan x="645.9" textLength="90.0" lengthAdjust="spacingAndGlyphs">Safety</tspan> <tspan x="744.8" textLength="159.5" lengthAdjust="spacingAndGlyphs">lock/Speed</tspan> <tspan x="911.4" textLength="65.5" lengthAdjust="spacingAndGlyphs">level</tspan></text>
<text class="lbl" y="257.1"><tspan x="646.9" textLength="91.5" lengthAdjust="spacingAndGlyphs">On/Off</tspan> <tspan x="745.8" textLength="94.5" lengthAdjust="spacingAndGlyphs">button</tspan></text>
<text class="lbl" y="307.5"><tspan x="646.0" textLength="89.0" lengthAdjust="spacingAndGlyphs">Signal</tspan></text>
<text class="lbl" y="206.2"><tspan x="1149.2" textLength="63.5" lengthAdjust="spacingAndGlyphs">Ring</tspan> <tspan x="1220.8" textLength="134.0" lengthAdjust="spacingAndGlyphs">controller</tspan></text>
<text class="lbl" y="410.0"><tspan x="20.5" textLength="108.5" lengthAdjust="spacingAndGlyphs">Remote</tspan> <tspan x="135.8" textLength="77.0" lengthAdjust="spacingAndGlyphs">cable</tspan> <tspan x="220.0" textLength="142.0" lengthAdjust="spacingAndGlyphs">connector</tspan></text>
<text class="lbl" y="563.0"><tspan x="78.5" textLength="93.0" lengthAdjust="spacingAndGlyphs">USB-C</tspan> <tspan x="178.4" textLength="125.5" lengthAdjust="spacingAndGlyphs">charging</tspan> <tspan x="310.7" textLength="77.0" lengthAdjust="spacingAndGlyphs">cable</tspan></text>
<text class="num" transform="translate(19.5 60.9) scale(1.29 1)" stroke="#000" stroke-width="0.7" x="0" y="0">4</text>
</svg>
</body>
</html>
